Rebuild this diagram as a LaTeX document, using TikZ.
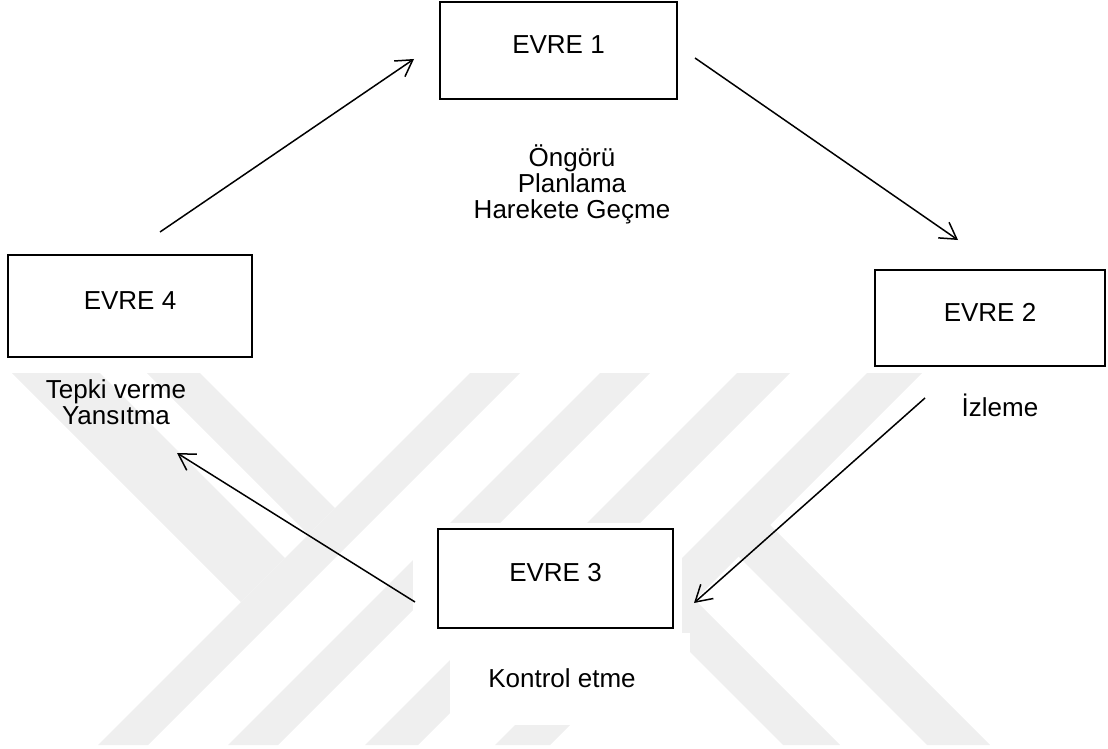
\documentclass[tikz,border=0pt]{standalone}
\usepackage{fontspec}
\setmainfont{Liberation Sans}
\usetikzlibrary{arrows.meta}
\definecolor{wm}{RGB}{239,239,239}
\tikzset{
  stage/.style={draw=black, line width=2.2pt, fill=white, rectangle, inner sep=0pt,
    text height=18.5pt, text depth=12pt, font=\fontsize{26}{26}\selectfont},
  lbl/.style={align=center, inner sep=0pt, font=\fontsize{26}{26}\selectfont},
  conn/.style={line width=1.5pt, -{Straight Barb[length=16pt,width=19pt]}},
  wmark/.style={fill=wm, draw=none}
}
\begin{document}
\begin{tikzpicture}[x=1pt,y=-1pt]
\useasboundingbox (0,0) rectangle (1108,749);
% faint watermark
\begin{scope}
\clip (0,373) rectangle (1108,745);
\fill[wmark] (470,373) -- (520,373) -- (148,745) -- (98,745) -- cycle;
\fill[wmark] (600,373) -- (650,373) -- (278,745) -- (228,745) -- cycle;
\fill[wmark] (737,373) -- (790,373) -- (418,745) -- (365,745) -- cycle;
\fill[wmark] (867,373) -- (922,373) -- (550,745) -- (495,745) -- cycle;
\fill[wmark] (12,373) -- (100,373) -- (285,558) -- (241,602) -- cycle;
\fill[wmark] (147,373) -- (200,373) -- (335,508) -- (308.5,534.5) -- cycle;
\fill[wmark] (711,529) -- (770,525) -- (990,745) -- (927,745) -- cycle;
\fill[wmark] (574,536) -- (629,534) -- (840,745) -- (783,745) -- cycle;
\end{scope}
\fill[white] (413,523) rectangle (682,633);
\fill[white] (450,633) rectangle (690,725);
% stages
\node[stage, minimum width=237pt, minimum height=97pt] (e1) at (558.5,50.5) {EVRE 1};
\node[stage, minimum width=230pt, minimum height=96pt] (e2) at (990,318) {EVRE 2};
\node[stage, minimum width=235pt, minimum height=99pt] (e3) at (555.5,578.5) {EVRE 3};
\node[stage, minimum width=244pt, minimum height=102pt] (e4) at (130,306) {EVRE 4};
% labels
\node[lbl] (l1) at (572,184) {Öngörü\\Planlama\\Harekete Geçme};
\node[lbl, anchor=base] (l2) at (1000,416) {İzleme};
\node[lbl, anchor=base] (l3) at (562,687) {Kontrol etme};
\node[lbl] (l4) at (116,402) {Tepki verme\\Yansıtma};
% connectors
\coordinate (a1s) at (160,232); \coordinate (a1e) at (414,59);
\coordinate (a2s) at (695,58);  \coordinate (a2e) at (958,240);
\coordinate (a3s) at (925,398); \coordinate (a3e) at (694,603);
\coordinate (a4s) at (415,602); \coordinate (a4e) at (177,453);
\draw[conn] (a1s) -- (a1e);
\draw[conn] (a2s) -- (a2e);
\draw[conn] (a3s) -- (a3e);
\draw[conn] (a4s) -- (a4e);
\end{tikzpicture}
\end{document}
